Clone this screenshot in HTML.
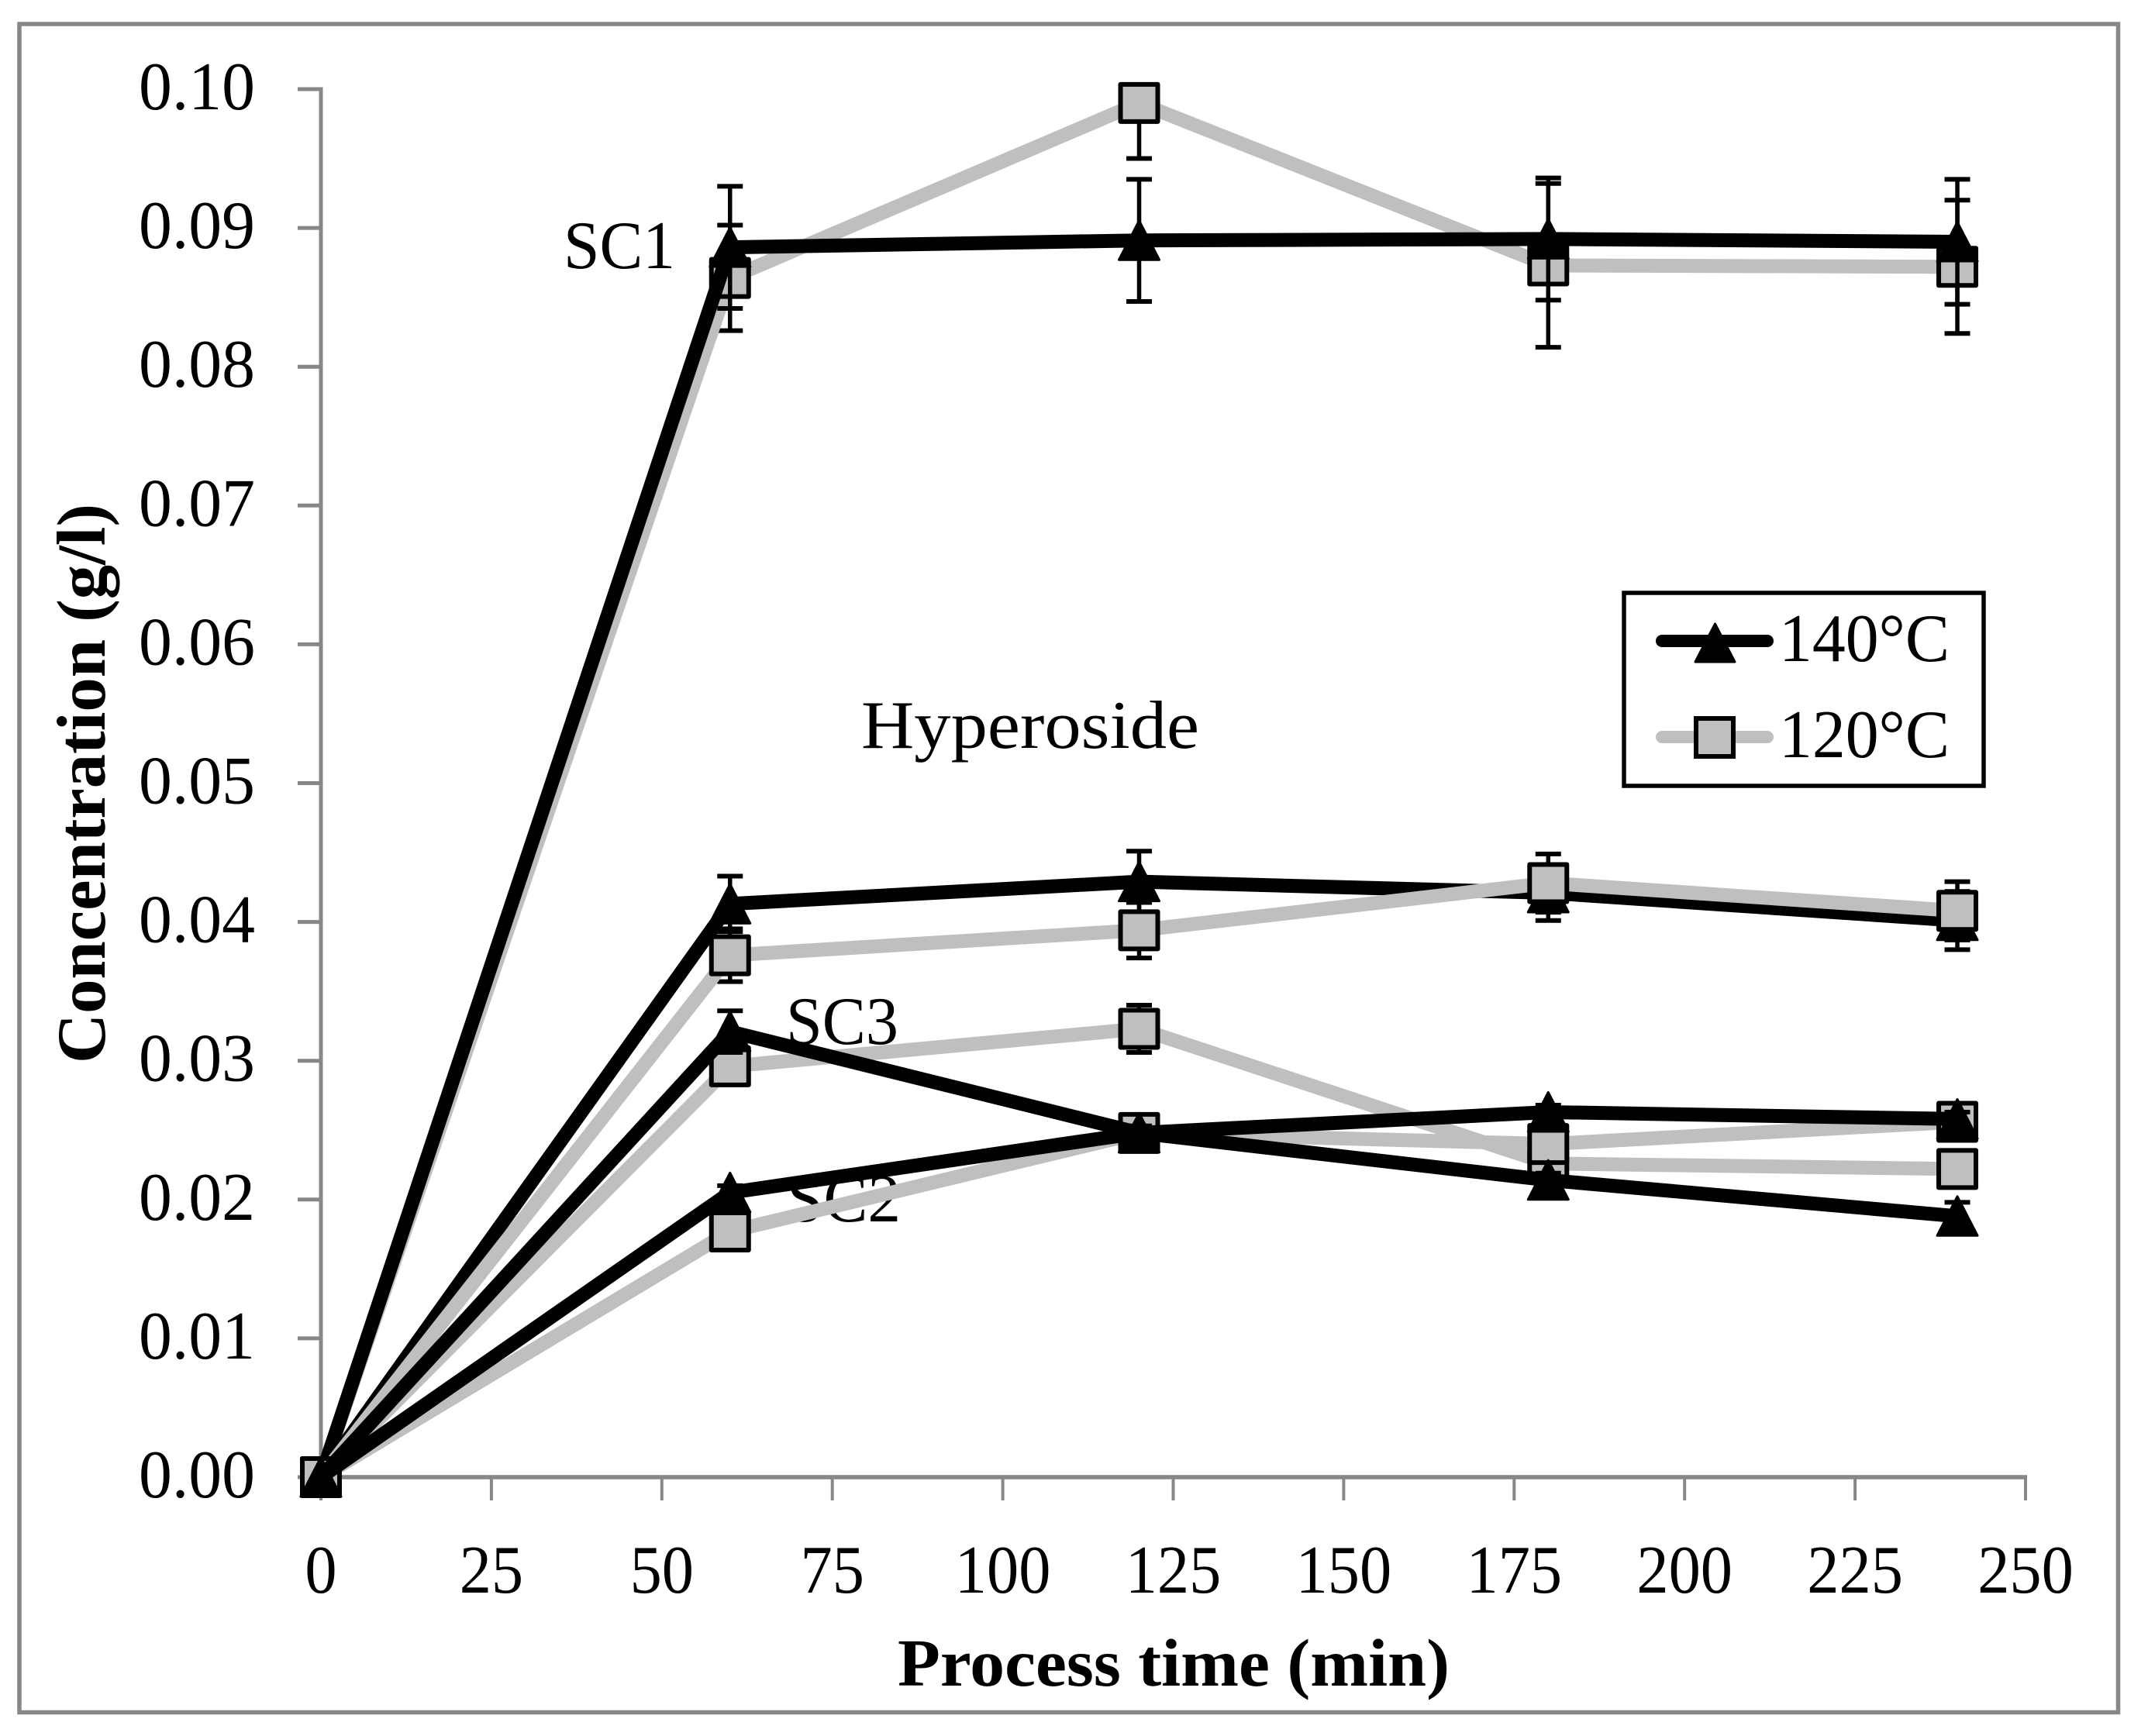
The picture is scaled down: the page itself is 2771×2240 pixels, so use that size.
<!DOCTYPE html>
<html lang="en">
<head>
<meta charset="utf-8">
<title>Concentration vs process time</title>
<style>
html,body{margin:0;padding:0;background:#fff}
svg{display:block}
text{font-family:"Liberation Serif","DejaVu Serif",serif;fill:#000}
</style>
</head>
<body>
<svg id="chart" xmlns="http://www.w3.org/2000/svg" width="2771" height="2240" viewBox="0 0 2771 2240">
  <rect x="0" y="0" width="2771" height="2240" fill="#fff"/>
  <rect x="25" y="31" width="2707.5" height="2178.5" fill="#fff" stroke="#878787" stroke-width="5.5"/>
  <g id="axes"></g>
  <text x="727" y="346" font-size="88" textLength="144" lengthAdjust="spacingAndGlyphs">SC1</text>
  <text x="1014" y="1347" font-size="88" textLength="145" lengthAdjust="spacingAndGlyphs">SC3</text>
  <text x="1015" y="1576" font-size="88" textLength="147" lengthAdjust="spacingAndGlyphs">SC2</text>
  <text x="1111" y="965" font-size="88" textLength="436" lengthAdjust="spacingAndGlyphs">Hyperoside</text>
  <g id="series"></g>
  <text x="1158" y="2175" font-size="87" font-weight="bold" textLength="712" lengthAdjust="spacingAndGlyphs">Process time (min)</text>
  <text x="135" y="1372" transform="rotate(-90 135 1372)" font-size="89" font-weight="bold" textLength="722" lengthAdjust="spacingAndGlyphs">Concentration (g/l)</text>
  <g>
    <rect x="2095" y="765" width="464" height="249" fill="#fff" stroke="#000" stroke-width="5.5"/>
    <line x1="2144" y1="827" x2="2280" y2="827" stroke="#000" stroke-width="16" stroke-linecap="round"/>
    <polygon points="2212.5,805 2238,854 2187,854" fill="#000" stroke="#000" stroke-width="3" stroke-linejoin="round"/>
    <text x="2295" y="853" font-size="88" textLength="220" lengthAdjust="spacingAndGlyphs">140°C</text>
    <line x1="2144" y1="951" x2="2280" y2="951" stroke="#BFBFBF" stroke-width="16" stroke-linecap="round"/>
    <rect x="2188" y="927" width="48" height="49" fill="#BFBFBF" stroke="#000" stroke-width="6"/>
    <text x="2295" y="977" font-size="88" textLength="220" lengthAdjust="spacingAndGlyphs">120°C</text>
  </g>
</svg>
<script>
const xTickValues = [0, 25, 50, 75, 100, 125, 150, 175, 200, 225, 250];
const xTickLabels = ['0', '25', '50', '75', '100', '125', '150', '175', '200', '225', '250'];
const yTickValues = [0, 0.01, 0.02, 0.03, 0.04, 0.05, 0.06, 0.07, 0.08, 0.09, 0.10];
const yTickLabels = ['0.00', '0.01', '0.02', '0.03', '0.04', '0.05', '0.06', '0.07', '0.08', '0.09', '0.10'];
const timePoints = [0, 60, 120, 180, 240];

const sc1At140 = [0, 0.0886, 0.0891, 0.0892, 0.0890];
const sc1At140Err = [0, 0.0044, 0.0044, 0.0044, 0.0045];
const sc1At120 = [0, 0.0864, 0.0990, 0.0873, 0.0872];
const sc1At120Err = [0, 0.0038, 0.0040, 0.0059, 0.0048];
const hypAt140 = [0, 0.0413, 0.0429, 0.0421, 0.0401];
const hypAt140Err = [0, 0.0020, 0.0022, 0.0020, 0.0021];
const hypAt120 = [0, 0.0376, 0.0394, 0.0428, 0.0408];
const hypAt120Err = [0, 0.0019, 0.0020, 0.0021, 0.0021];
const sc3At140 = [0, 0.0321, 0.0248, 0.0214, 0.0188];
const sc3At140Err = [0, 0.0015, 0.0005, 0.0005, 0.0010];
const sc3At120 = [0, 0.0296, 0.0323, 0.0226, 0.0222];
const sc3At120Err = [0, 0.0010, 0.0017, 0.0005, 0.0005];
const sc2At140 = [0, 0.0205, 0.0248, 0.0263, 0.0258];
const sc2At140Err = [0, 0.0005, 0.0005, 0.0005, 0.0005];
const sc2At120 = [0, 0.0177, 0.0248, 0.0240, 0.0256];
const sc2At120Err = [0, 0.0005, 0.0005, 0.0005, 0.0005];

const yAxisMax = 0.10;

function xScale(t) { return 414 + t * 8.796; }
function yScale(v) { return 1906 - v * 17910; }

const NS = 'http://www.w3.org/2000/svg';
const axesLayer = document.getElementById('axes');
const seriesLayer = document.getElementById('series');

function make(tag, attrs, parent) {
  const el = document.createElementNS(NS, tag);
  for (const k in attrs) el.setAttribute(k, attrs[k]);
  parent.appendChild(el);
  return el;
}

/* axis lines */
const yAxisLine = make('line', {x1: xScale(0), y1: yScale(yAxisMax) - 2.5, x2: xScale(0), y2: yScale(0), stroke: '#878787', 'stroke-width': 5}, axesLayer);


const xAxisLine = make('line', {x1: xScale(0) - 2.5, y1: yScale(0), x2: xScale(250) + 2, y2: yScale(0), stroke: '#878787', 'stroke-width': 5.5}, axesLayer);



/* y ticks */
yTickValues.forEach(function (v, i) {
  const y = yScale(v);
  const tick = make('line', {x1: 384, y1: y, x2: xScale(0), y2: y, stroke: '#878787', 'stroke-width': 5}, axesLayer);
  
  
  const label = make('text', {x: 179, y: y + 26, 'font-size': 88, textLength: 150, lengthAdjust: 'spacingAndGlyphs'}, axesLayer);
  label.textContent = yTickLabels[i];
  
  
});

/* x ticks */
xTickValues.forEach(function (t, i) {
  const x = xScale(t);
  const tick = make('line', {x1: x, y1: yScale(0), x2: x, y2: 1936, stroke: '#878787', 'stroke-width': 4}, axesLayer);
  
  
  const w = xTickLabels[i].length * 41.2;
  const label = make('text', {x: x - w / 2, y: 2055, 'font-size': 88, textLength: w, lengthAdjust: 'spacingAndGlyphs'}, axesLayer);
  label.textContent = xTickLabels[i];
  
  
});

function drawSeries(name, values, errors, color, kind) {
  const g = make('g', {}, seriesLayer);
  
  

  values.forEach(function (v, i) {
    if (!errors[i]) return;
    const x = xScale(timePoints[i]);
    const hi = yScale(Math.min(v + errors[i], yAxisMax));
    const lo = yScale(v - errors[i]);
    const stem = make('line', {x1: x, y1: hi, x2: x, y2: lo, stroke: '#000', 'stroke-width': 5.5}, g);
    
    
    if (v + errors[i] <= yAxisMax) {
      const capTop = make('line', {x1: x - 16.5, y1: hi, x2: x + 16.5, y2: hi, stroke: '#000', 'stroke-width': 6}, g);
      
      
    }
    const capBottom = make('line', {x1: x - 16.5, y1: lo, x2: x + 16.5, y2: lo, stroke: '#000', 'stroke-width': 6}, g);
    
    
  });

  const pts = values.map(function (v, i) { return xScale(timePoints[i]) + ',' + yScale(v); }).join(' ');
  const line = make('polyline', {points: pts, fill: 'none', stroke: color, 'stroke-width': 18, 'stroke-linejoin': 'round'}, g);
  
  

  values.forEach(function (v, i) {
    const x = xScale(timePoints[i]);
    const y = yScale(v);
    if (kind === 'triangle') {
      const tri = make('polygon', {points: x + ',' + (y - 25.5) + ' ' + (x + 26) + ',' + (y + 25) + ' ' + (x - 26) + ',' + (y + 25), fill: '#000', stroke: '#000', 'stroke-width': 3, 'stroke-linejoin': 'round'}, g);
      
      
    } else {
      const sq = make('rect', {x: x - 24, y: y - 24, width: 48, height: 48, fill: '#BFBFBF', stroke: '#000', 'stroke-width': 6, 'stroke-linejoin': 'round'}, g);
      
      
    }
  });
}

drawSeries('series-sc1-120c', sc1At120, sc1At120Err, '#BFBFBF', 'square');
drawSeries('series-sc1-140c', sc1At140, sc1At140Err, '#000', 'triangle');
drawSeries('series-hyperoside-140c', hypAt140, hypAt140Err, '#000', 'triangle');
drawSeries('series-hyperoside-120c', hypAt120, hypAt120Err, '#BFBFBF', 'square');
drawSeries('series-sc3-120c', sc3At120, sc3At120Err, '#BFBFBF', 'square');
drawSeries('series-sc2-120c', sc2At120, sc2At120Err, '#BFBFBF', 'square');
drawSeries('series-sc3-140c', sc3At140, sc3At140Err, '#000', 'triangle');
drawSeries('series-sc2-140c', sc2At140, sc2At140Err, '#000', 'triangle');
</script>
</body>
</html>
